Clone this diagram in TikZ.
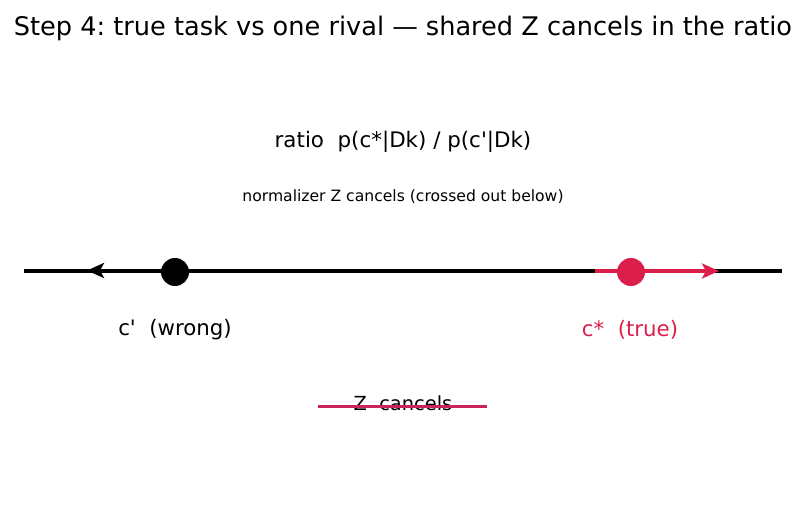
\documentclass[tikz,border=0pt]{standalone}
\usepackage{fontspec}
\setmainfont{DejaVu Sans}
\usetikzlibrary{arrows.meta}
\definecolor{crim}{HTML}{DC1E4B}
\definecolor{strike}{HTML}{C8245A}
\tikzset{
  lbl/.style={inner sep=0pt, anchor=center},
  dot/.style={circle, inner sep=0pt, minimum size=28pt},
  push/.style={line width=3.6pt, -{Stealth[length=17pt,width=15pt,inset=4pt]}}
}
\frenchspacing
\begin{document}
\begin{tikzpicture}[x=1pt,y=1pt]
\useasboundingbox (0,0) rectangle (805,512);
\node[lbl, font=\fontsize{25.6}{30}\selectfont] (title) at (403,484) {Step 4: true task vs one rival — shared Z cancels in the ratio};
\node[lbl, font=\fontsize{21.4}{25}\selectfont] (ratio) at (403,370) {ratio\ \ p(c*|Dk) / p(c\textquotesingle|Dk)};
\node[lbl, font=\fontsize{15.6}{18}\selectfont] (norm) at (403,315) {normalizer Z cancels (crossed out below)};
\coordinate (L) at (24,241);
\coordinate (R) at (782,241);
\draw[line width=4pt] (L) -- (R);
\coordinate (ba) at (209,241.5);
\coordinate (bt) at (87,241.5);
\coordinate (ra) at (595,241);
\coordinate (rt) at (719,241);
\draw[push, black] (ba) -- (bt);
\draw[push, crim] (ra) -- (rt);
\node[dot, fill=black] (cw) at (175,240) {};
\node[dot, fill=crim] (ct) at (631,240) {};
\node[lbl, font=\fontsize{21.3}{25}\selectfont] (lw) at (175,182) {c\textquotesingle\ \ (wrong)};
\node[lbl, font=\fontsize{21.3}{25}\selectfont, text=crim] (lt) at (630,182) {c*\ \ (true)};
\node[lbl, font=\fontsize{19.4}{23}\selectfont] (z) at (403,109) {Z\ \ cancels};
\coordinate (s1) at (318,106);
\coordinate (s2) at (487,106);
\draw[line width=3pt, strike] (s1) -- (s2);
\end{tikzpicture}
\end{document}
